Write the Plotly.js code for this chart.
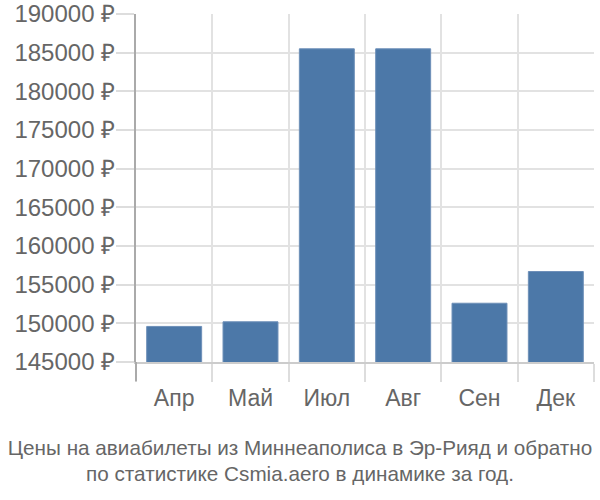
<!DOCTYPE html>
<html><head><meta charset="utf-8">
<script src="https://cdn.plot.ly/plotly-3.0.1.min.js"></script>
<style>body{margin:0;padding:0;}#chart{width:600px;height:500px;}</style>
</head><body><div id="chart"></div>
<script>
const months = ['Апр', 'Май', 'Июл', 'Авг', 'Сен', 'Дек'];
const prices = [149600, 150200, 185500, 185500, 152600, 156700];
const yTicks = [145000, 150000, 155000, 160000, 165000, 170000, 175000, 180000, 185000, 190000];
const yTickLabels = yTicks.map(v => v + ' ₽');
const titleLines = ['Цены на авиабилеты из Миннеаполиса в Эр-Рияд и обратно', 'по статистике Csmia.aero в динамике за год.'];

const trace = {
  type: 'bar', x: months, y: prices,
  marker: {color: '#4c78a8', line: {color: '#6d8fb8', width: 1}},
  hoverinfo: 'x+y'
};
const layout = {
  width: 600, height: 500,
  margin: {l: 136, r: 6, t: 14, b: 138},
  paper_bgcolor: '#fff', plot_bgcolor: '#fff',
  font: {family: 'Liberation Sans, Arial, sans-serif', color: '#666', size: 22},
  bargap: 0.28,
  showlegend: false,
  xaxis: {
    type: 'category', tickson: 'boundaries', ticks: 'outside', ticklen: 18, tickcolor: '#ddd', tickwidth: 2,
    showgrid: true, gridcolor: '#e2e2e2', gridwidth: 2,
    showline: true, linecolor: '#ccc', linewidth: 2,
    ticklabelstandoff: 14,
    tickfont: {size: 23, color: '#666'}
  },
  yaxis: {
    range: [145000, 190000], tickvals: yTicks, ticktext: yTickLabels,
    ticks: 'outside', ticklen: 18, tickcolor: '#ddd', tickwidth: 2,
    showgrid: true, gridcolor: '#e2e2e2', gridwidth: 2,
    showline: true, linecolor: '#aaa', linewidth: 2, zeroline: false,
    ticklabelstandoff: -4,
    tickfont: {size: 24, color: '#666'}
  },
  title: {
    text: titleLines.join('<br>'),
    font: {size: 20.7, color: '#666', family: 'Liberation Sans, Arial, sans-serif'},
    x: 0.5, xanchor: 'center', xref: 'container',
    y: 0.091, yanchor: 'middle', yref: 'container'
  },
  shapes: [{type: 'line', xref: 'paper', yref: 'paper', x0: 0, x1: 0, y0: 0, y1: -0.055, line: {color: '#aaa', width: 2}}]
};
Plotly.newPlot('chart', [trace], layout, {displayModeBar: false, staticPlot: true});
</script></body></html>
